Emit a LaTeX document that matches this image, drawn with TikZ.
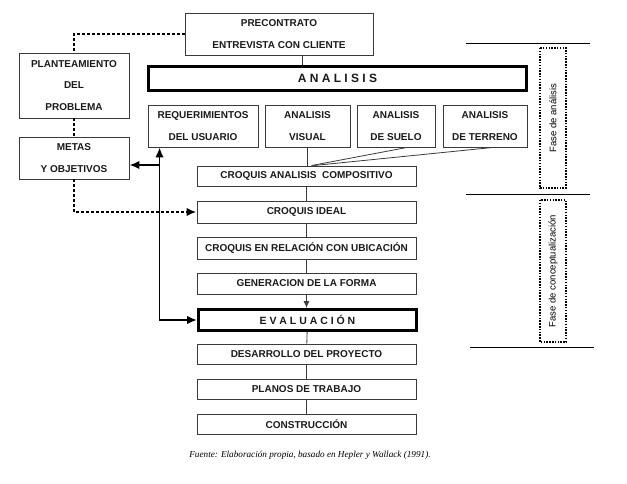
\documentclass[tikz,border=0pt]{standalone}
\usepackage{fontspec}
\setmainfont{Liberation Sans}
\newfontfamily\capfont{Liberation Serif}
\usetikzlibrary{arrows.meta,positioning,calc}
\definecolor{fxLine}{HTML}{3A3A3A}
\definecolor{fxText}{HTML}{1A1A1A}
\tikzset{
  stepbox/.style={draw=fxLine, line width=0.9pt, fill=white, align=center, inner sep=0pt, text=fxText, font=\fontsize{10}{21.5}\selectfont\bfseries},
  bigbox/.style={stepbox, draw=black, line width=3pt},
  link/.style={draw=fxLine, line width=0.8pt},
  linkarr/.style={link, -{Latex[length=7pt,width=6pt]}},
  fb/.style={draw=black, line width=1.8pt},
  dotline/.style={draw=black, line width=2.4pt, dash pattern=on 2.4pt off 2.6pt},
  phase/.style={draw=black, line width=1.5pt, dash pattern=on 1.5pt off 1.3pt, rotate=90, minimum height=26pt, inner sep=0pt, font=\fontsize{9.5}{11}\selectfont},
  sep/.style={draw=black, line width=0.8pt}
}
\begin{document}
\begin{tikzpicture}[x=1pt,y=-1pt]
  \useasboundingbox (0,0) rectangle (627,484);

  \node[stepbox, minimum width=188pt, minimum height=42pt] (pre) at (279,34) {PRECONTRATO\\ENTREVISTA CON CLIENTE};
  \node[bigbox, minimum width=378pt, minimum height=24pt, font=\fontsize{12}{14}\selectfont\bfseries] (ana) at (337.5,78.5) {A N A L I S I S};

  \node[stepbox, minimum width=110pt, minimum height=65pt] (plan) at (74,85.5) {PLANTEAMIENTO\\DEL\\PROBLEMA};
  \node[stepbox, minimum width=110pt, minimum height=42pt] (metas) at (74,158) {METAS\\Y OBJETIVOS};

  \node[stepbox, minimum width=110pt, minimum height=42pt] (req) at (203,126) {REQUERIMIENTOS\\DEL USUARIO};
  \node[stepbox, minimum width=85pt, minimum height=42pt] (vis) at (307.5,126) {ANALISIS\\VISUAL};
  \node[stepbox, minimum width=78pt, minimum height=42pt] (suelo) at (396,126) {ANALISIS\\DE SUELO};
  \node[stepbox, minimum width=84pt, minimum height=42pt] (terr) at (485,126) {ANALISIS\\DE TERRENO};

  \node[stepbox, minimum width=219pt, minimum height=20pt] (comp) at (306.5,176) {CROQUIS ANALISIS~ COMPOSITIVO};
  \node[stepbox, minimum width=219pt, minimum height=22pt] (ideal) at (306.5,212) {CROQUIS IDEAL};
  \node[stepbox, minimum width=219pt, minimum height=22pt] (rel) at (306.5,248) {CROQUIS EN RELACIÓN CON UBICACIÓN};
  \node[stepbox, minimum width=219pt, minimum height=21pt] (gen) at (306.5,283.5) {GENERACION DE LA FORMA};
  \node[bigbox, minimum width=218pt, minimum height=21pt, font=\fontsize{10.5}{12}\selectfont\bfseries] (eva) at (307.5,320) {E V A L U A C I Ó N};
  \node[stepbox, minimum width=219pt, minimum height=20pt] (des) at (306.5,354) {DESARROLLO DEL PROYECTO};
  \node[stepbox, minimum width=219pt, minimum height=20pt] (pla) at (306.5,389) {PLANOS DE TRABAJO};
  \node[stepbox, minimum width=219pt, minimum height=20pt] (con) at (306.5,424) {CONSTRUCCIÓN};

  % main line
  \coordinate (preout) at ($(pre.south)+(23,0)$);
  \draw[link] (preout) -- (preout |- ana.north);
  \draw[link] (vis.south) -- (vis.south |- comp.north);
  \draw[link] ($(suelo.south)+(11,0)$) -- ($(comp.north)+(5,0)$);
  \draw[link] ($(terr.south)+(8,0)$) -- ($(comp.north)+(7,0)$);
  \foreach \a/\b in {comp/ideal,ideal/rel,rel/gen,eva/des,des/pla,pla/con}
    \draw[link] (\a) -- (\b);
  \draw[linkarr] (gen) -- (gen |- eva.north);

  % feedback
  \coordinate (fbtop) at ($(req.south west)+(12,0)$);
  \coordinate (fbmid) at ($(metas.east)+(0,7)$);
  \draw[fb, {Latex[length=10pt,width=8.5pt]}-{Latex[length=10pt,width=8.5pt]}] (fbtop) |- (eva.west);
  \draw[fb, -{Latex[length=10pt,width=8.5pt]}] (fbtop |- fbmid) -- (fbmid);

  % dotted links
  \draw[dotline] (pre.west) -| (plan.north);
  \draw[dotline] (plan.south) -- (metas.north);
  \draw[dotline, -{Latex[length=10pt,width=8.5pt]}] (metas.south) |- (ideal.west);

  % phases
  \draw[sep] (466,43) -- (590,43);
  \draw[sep] (466,194) -- (590,194);
  \draw[sep] (470,347) -- (594,347);
  \node[phase, minimum width=140pt] (fan) at (553,118) {Fase de análisis};
  \node[phase, minimum width=142pt] (fcon) at (553,271) {Fase de conceptualización};

  \node[font=\capfont\itshape\fontsize{9.2}{11}\selectfont] (src) at (310,455) {Fuente: Elaboración propia, basado en Hepler y Wallack (1991).};
\end{tikzpicture}
\end{document}
